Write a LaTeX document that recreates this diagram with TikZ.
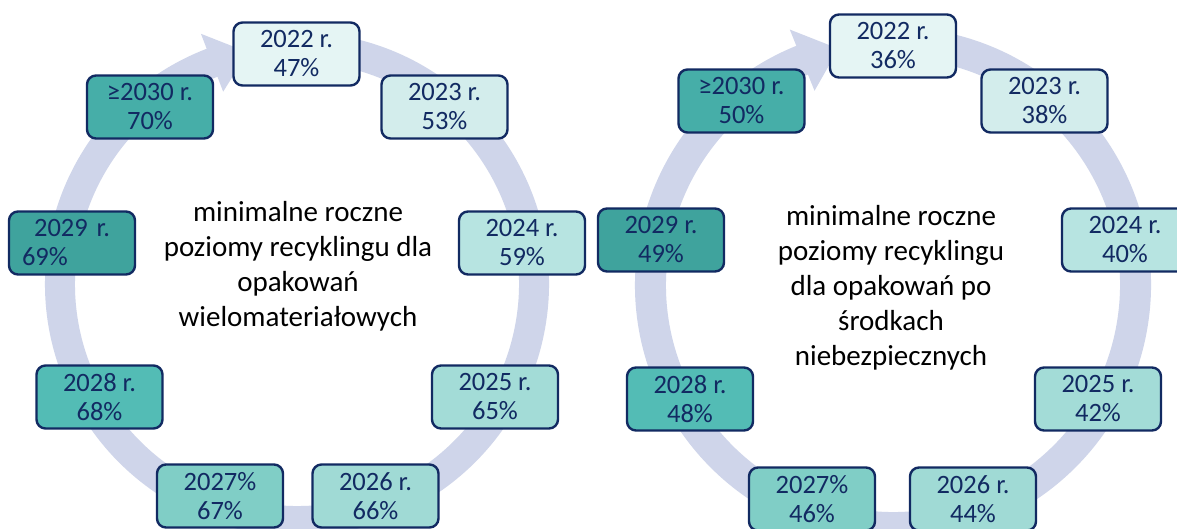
\documentclass[tikz,border=0pt]{standalone}
\usepackage{fontspec}
\setmainfont{Carlito}
\usetikzlibrary{calc}
\definecolor{navy}{RGB}{18,42,98}
\definecolor{bandc}{RGB}{207,213,234}
\definecolor{c22}{RGB}{229,245,244}
\definecolor{c23}{RGB}{211,237,236}
\definecolor{c24}{RGB}{183,228,225}
\definecolor{c25}{RGB}{163,220,215}
\definecolor{c26}{RGB}{160,218,213}
\definecolor{c27}{RGB}{128,206,198}
\definecolor{c28}{RGB}{83,188,181}
\definecolor{c29}{RGB}{63,163,157}
\definecolor{c30}{RGB}{70,174,168}
\begin{document}
\begin{tikzpicture}[x=1pt,y=1pt,
  box/.style={draw=navy, line width=2.4pt, rounded corners=9pt, minimum width=126pt,
    minimum height=63pt, inner sep=0pt, align=center, text=navy,
    font=\fontsize{26.5}{29}\selectfont},
  midtext/.style={align=center, text=black, font=\fontsize{29}{35}\selectfont}]
\useasboundingbox (0,-528) rectangle (1177,0);
\fill[white] (0,-528) rectangle (1177,0);

% ---------- left cycle ----------
\coordinate (cL) at (297,-284);
\draw[bandc, line width=30pt] ($(cL)+(80:237pt)$) arc[start angle=80, end angle=-249.3, radius=237pt];
\fill[bandc] ($(cL)+(111:268pt)$) -- ($(cL)+(102:237pt)$) -- ($(cL)+(111:206pt)$) -- cycle;

\node[box, fill=c22] (L22) at (296.5,-54) {2022 r.\\47\%};
\node[box, fill=c23] (L23) at (444.5,-107) {2023 r.\\53\%};
\node[box, fill=c24] (L24) at (522,-243) {2024 r.\\59\%};
\node[box, fill=c25] (L25) at (495,-397) {2025 r.\\65\%};
\node[box, fill=c26] (L26) at (375.5,-496) {2026 r.\\66\%};
\node[box, fill=c27] (L27) at (220,-496) {2027\%\\67\%};
\node[box, fill=c28] (L28) at (99.5,-397) {2028 r.\\68\%};
\node[box, fill=c29, text width=100pt, align=left] (L29) at (72,-243) {\makebox[100pt][c]{2029 r.}\\69\%};
\node[box, fill=c30] (L30) at (150,-107) {≥2030 r.\\70\%};
\node[midtext] (Lt) at (298,-266) {minimalne roczne\\poziomy recyklingu dla\\opakowań\\wielomateriałowych};

% ---------- right cycle ----------
\coordinate (cR) at (893,-285);
\draw[bandc, line width=31pt] ($(cR)+(80:242.5pt)$) arc[start angle=80, end angle=-248.3, radius=242.5pt];
\fill[bandc] ($(cR)+(112:275.5pt)$) -- ($(cR)+(103:242.5pt)$) -- ($(cR)+(112:209.5pt)$) -- cycle;

\node[box, fill=c22] (R22) at (893,-46) {2022 r.\\36\%};
\node[box, fill=c23] (R23) at (1044.5,-101) {2023 r.\\38\%};
\node[box, fill=c24] (R24) at (1125,-240) {2024 r.\\40\%};
\node[box, fill=c25] (R25) at (1098,-399) {2025 r.\\42\%};
\node[box, fill=c26] (R26) at (973,-499) {2026 r.\\44\%};
\node[box, fill=c27] (R27) at (812,-499) {2027\%\\46\%};
\node[box, fill=c28] (R28) at (690,-399) {2028 r.\\48\%};
\node[box, fill=c29] (R29) at (661,-240) {2029 r.\\49\%};
\node[box, fill=c30] (R30) at (741.5,-101) {≥2030 r.\\50\%};
\node[midtext] (Rt) at (891,-288) {minimalne roczne\\poziomy recyklingu\\dla opakowań po\\środkach\\niebezpiecznych};
\end{tikzpicture}
\end{document}
